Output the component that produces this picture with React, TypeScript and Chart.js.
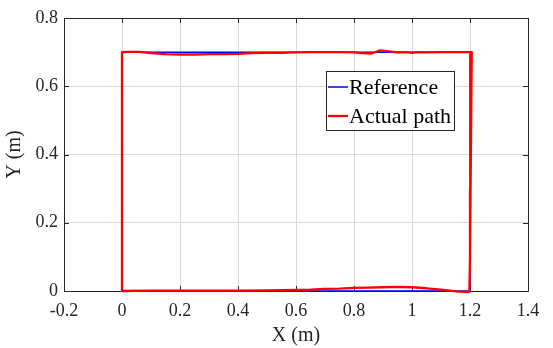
import React, { useEffect, useRef } from "react";
import { Chart, registerables } from "chart.js";

Chart.register(...registerables);

const xTickValues = [-0.2, 0, 0.2, 0.4, 0.6, 0.8, 1, 1.2, 1.4];
const xTickLabels = ["-0.2", "0", "0.2", "0.4", "0.6", "0.8", "1", "1.2", "1.4"];
const yTickValues = [0, 0.2, 0.4, 0.6, 0.8];
const yTickLabels = ["0", "0.2", "0.4", "0.6", "0.8"];

const seriesNames = ["Reference", "Actual path"];

const referenceX = [0, 0, 1.2, 1.2, 0];
const referenceY = [0, 0.7, 0.7, 0, 0];

const actualX = [
  0, 0, 0.02, 0.06, 0.1, 0.15, 0.2, 0.25, 0.3, 0.35, 0.4, 0.45, 0.5, 0.55, 0.6, 0.65, 0.7,
  0.75, 0.8, 0.83, 0.86, 0.89, 0.92, 0.95, 0.98, 1.0, 1.02, 1.05, 1.1, 1.15, 1.206,
  1.204, 1.202, 1.2, 1.198, 1.196, 1.16, 1.1, 1.05, 1.0, 0.95, 0.9, 0.85, 0.8, 0.75, 0.7,
  0.65, 0.6, 0.5, 0.4, 0.3, 0.2, 0.1, 0,
];
const actualY = [
  0, 0.7, 0.701, 0.701, 0.697, 0.694, 0.693, 0.693, 0.694, 0.694, 0.695, 0.697, 0.698, 0.698,
  0.699, 0.7, 0.7, 0.7, 0.699, 0.697, 0.696, 0.705, 0.702, 0.699, 0.7, 0.698, 0.7, 0.699, 0.7,
  0.7, 0.7, 0.5, 0.3, 0.1, 0.0, -0.003, -0.002, 0.004, 0.008, 0.011, 0.012, 0.011, 0.01,
  0.009, 0.007, 0.006, 0.004, 0.003, 0.002, 0.001, 0.001, 0.001, 0.001, 0,
];

const seriesColors = ["#0000ff", "#ff0000"];
const seriesWidths = [1.5, 2.3];
const axisColor = "#262626";
const fontFamily = "'Liberation Serif', 'Times New Roman', serif";

const toPoints = (xs: number[], ys: number[]) => xs.map((x, i) => ({ x, y: ys[i] }));

const framePlugin = {
  id: "frame",
  beforeDatasetsDraw(chart: any) {
    const { ctx, chartArea: a, scales } = chart;
    ctx.save();
    ctx.strokeStyle = axisColor;
    ctx.lineWidth = 1;
    ctx.beginPath();
    ctx.rect(Math.round(a.left) + 0.5, Math.round(a.top) + 0.5, Math.round(a.right - a.left), Math.round(a.bottom - a.top));
    ctx.stroke();
    const tl = 5;
    ctx.beginPath();
    xTickValues.forEach((v) => {
      const px = Math.round(scales.x.getPixelForValue(v)) + 0.5;
      ctx.moveTo(px, a.bottom);
      ctx.lineTo(px, a.bottom - tl);
      ctx.moveTo(px, a.top);
      ctx.lineTo(px, a.top + tl);
    });
    yTickValues.forEach((v) => {
      const py = Math.round(scales.y.getPixelForValue(v)) + 0.5;
      ctx.moveTo(a.left, py);
      ctx.lineTo(a.left + tl, py);
      ctx.moveTo(a.right, py);
      ctx.lineTo(a.right - tl, py);
    });
    ctx.stroke();
    ctx.restore();
  },
  afterDraw(chart: any) {
    const { ctx } = chart;
    const bx = 326.5, by = 71.5, bw = 128, bh = 59;
    ctx.save();
    ctx.fillStyle = "#ffffff";
    ctx.fillRect(bx, by, bw, bh);
    ctx.strokeStyle = axisColor;
    ctx.lineWidth = 1;
    ctx.strokeRect(bx, by, bw, bh);
    const rows = [87, 116];
    seriesNames.forEach((name, i) => {
      ctx.strokeStyle = seriesColors[i];
      ctx.lineWidth = seriesWidths[i];
      ctx.beginPath();
      ctx.moveTo(328, rows[i]);
      ctx.lineTo(348, rows[i]);
      ctx.stroke();
      ctx.fillStyle = "#000000";
      ctx.font = `22px ${fontFamily}`;
      ctx.textBaseline = "middle";
      ctx.textAlign = "left";
      ctx.fillText(name, 349, rows[i] + 1);
    });
    ctx.restore();
  },
};

export default function App() {
  const ref = useRef<HTMLCanvasElement>(null);
  useEffect(() => {
    if (!ref.current) return;
    const chart = new Chart(ref.current, {
      type: "scatter",
      data: {
        datasets: [
          {
            label: seriesNames[0],
            data: toPoints(referenceX, referenceY),
            showLine: true,
            borderColor: seriesColors[0],
            backgroundColor: seriesColors[0],
            borderWidth: seriesWidths[0],
            pointRadius: 0,
            order: 2,
            clip: false as any,
          },
          {
            label: seriesNames[1],
            data: toPoints(actualX, actualY),
            showLine: true,
            borderColor: seriesColors[1],
            backgroundColor: seriesColors[1],
            borderWidth: seriesWidths[1],
            borderJoinStyle: "round",
            borderCapStyle: "round",
            pointRadius: 0,
            order: 1,
            clip: false as any,
          },
        ],
      },
      options: {
        animation: false,
        responsive: false,
        events: [],
        layout: { padding: { top: 18, right: 25, left: 0, bottom: 0 } },
        plugins: { legend: { display: false }, tooltip: { enabled: false } },
        scales: {
          x: {
            type: "linear",
            min: -0.2,
            max: 1.4,
            afterFit: (s: any) => { s.height = 57; },
            afterBuildTicks: (s: any) => { s.ticks = xTickValues.map((v) => ({ value: v })); },
            ticks: {
              padding: 9,
              color: axisColor,
              font: { family: fontFamily, size: 18 },
              callback: (_v: any, i: number) => xTickLabels[i],
              maxRotation: 0,
              autoSkip: false,
            },
            grid: { color: "#d9d9d9", drawTicks: false, lineWidth: 1 },
            border: { display: false },
            title: {
              display: true,
              text: "X (m)",
              color: axisColor,
              font: { family: fontFamily, size: 20 },
              padding: { top: 0, bottom: 0 },
            },
          },
          y: {
            type: "linear",
            min: 0,
            max: 0.8,
            afterFit: (s: any) => { s.width = 64; },
            afterBuildTicks: (s: any) => { s.ticks = yTickValues.map((v) => ({ value: v })); },
            ticks: {
              padding: 6,
              color: axisColor,
              font: { family: fontFamily, size: 18 },
              callback: (_v: any, i: number) => yTickLabels[i],
              autoSkip: false,
            },
            grid: { color: "#d9d9d9", drawTicks: false, lineWidth: 1 },
            border: { display: false },
            title: {
              display: true,
              text: "Y (m)",
              color: axisColor,
              font: { family: fontFamily, size: 20 },
              padding: { top: 3, bottom: 0 },
            },
          },
        },
      },
      plugins: [framePlugin],
    });
    return () => chart.destroy();
  }, []);
  return (
    <div style={{ position: "fixed", left: 0, top: 0, width: 553, height: 348, background: "#fff" }}>
      <canvas ref={ref} width={553} height={348} style={{ display: "block" }} />
    </div>
  );
}
